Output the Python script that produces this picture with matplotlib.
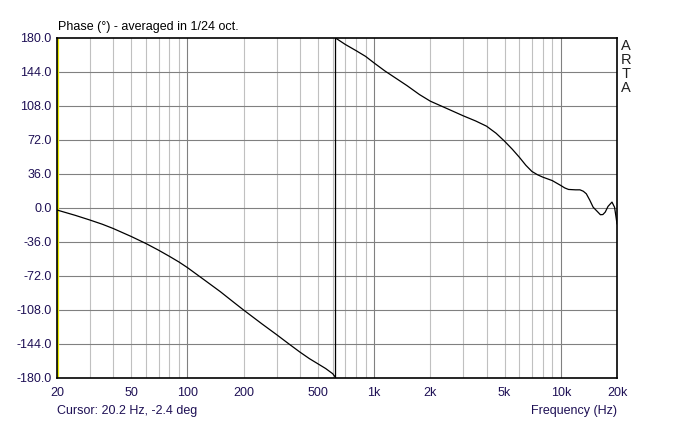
import matplotlib
matplotlib.use('Agg')
import matplotlib.pyplot as plt
from matplotlib.ticker import FixedLocator, NullFormatter

plt.rcParams['font.family'] = ['Liberation Sans', 'DejaVu Sans']

# ── data (phase in degrees, wraps at ~621 Hz) ────────────────────────────────
freq_hz = [20, 25, 30, 35, 40, 50, 60, 70, 80, 90, 100, 125, 150, 175, 200,
           250, 300, 350, 400, 450, 500, 550, 600, 621,
           621, 700, 800, 900, 1000, 1143, 1500, 1750, 2000, 2500, 3000, 3500,
           4000, 4500, 5000, 5500, 6000, 6500, 7000, 7500, 8000, 9000, 10000,
           10500, 11000, 12000, 12670, 13200, 13700, 14300, 14900, 15800,
           16300, 16800, 17300, 17900, 18800, 19400, 19700, 20000]
phase_deg = [-2.4, -8, -13, -17.5, -22, -30.5, -38, -45, -51.5, -57.5, -63.5,
             -77.5, -89, -99.5, -108.5, -123, -134.5, -144.5, -153, -160,
             -165.5, -170.5, -176, -180,
             180, 173.2, 166.6, 160.5, 153.5, 145, 129.5, 120, 113, 104.5,
             97.5, 92, 86.5, 79, 70.5, 62, 53.5, 45, 38.5, 35, 32.5, 28.8,
             23.6, 21, 19.4, 19, 19, 17.5, 14.8, 8, 0.6, -4.6, -7.4, -7.2,
             -4.6, 1.4, 6, 0.6, -8, -17]

y_ticks = [180, 144, 108, 72, 36, 0, -36, -72, -108, -144, -180]
x_ticks = [20, 50, 100, 200, 500, 1000, 2000, 5000, 10000, 20000]
x_tick_labels = ['20', '50', '100', '200', '500', '1k', '2k', '5k', '10k', '20k']
major_grid = [100, 1000, 10000]
minor_grid = [m * d for d in (10, 100, 1000) for m in range(2, 10)
              if 20 < m * d < 20000 and m * d not in major_grid]

cursor_f, cursor_v = 20.2, -2.4

label_col = '#1e1055'

fig = plt.figure(figsize=(6.73, 4.22), dpi=100)
ax = fig.add_axes([57 / 673, 44.5 / 422, 560 / 673, 339.5 / 422])

ax.set_xscale('log')
ax.set_xlim(20, 20000)
ax.set_ylim(-180, 180)

for f in minor_grid:
    ax.axvline(f, color='#c0c0c0', lw=0.8, zorder=1)
for f in major_grid:
    ax.axvline(f, color='#808080', lw=0.8, zorder=1)
for v in y_ticks[1:-1]:
    ax.axhline(v, color='#808080', lw=0.8, zorder=1)

ax.axvline(cursor_f, color='#e8e800', lw=1.6, zorder=2)

ax.plot(freq_hz, phase_deg, color='black', lw=0.9, zorder=3)

ax.xaxis.set_major_locator(FixedLocator(x_ticks))
ax.set_xticklabels(x_tick_labels)
ax.xaxis.set_minor_formatter(NullFormatter())
ax.xaxis.set_minor_locator(FixedLocator([]))
ax.set_yticks(y_ticks)
ax.set_yticklabels([f'{v:.1f}' for v in y_ticks])
ax.tick_params(length=0, labelsize=9, colors=label_col, pad=4)
ax.tick_params(axis='x', pad=7)

for sp in ax.spines.values():
    sp.set_color('black')
    sp.set_linewidth(1.2)

fig.text(58 / 673, 1 - 27 / 422, 'Phase (°) - averaged in 1/24 oct.',
         fontsize=9, color='black', va='center', ha='left')
fig.text(57 / 673, 1 - 411 / 422,
         f'Cursor: {cursor_f} Hz, {cursor_v} deg',
         fontsize=9, color=label_col, va='center', ha='left')
fig.text(617 / 673, 1 - 411 / 422, 'Frequency (Hz)',
         fontsize=9, color=label_col, va='center', ha='right')
fig.text(626 / 673, 1 - 39 / 422, 'A\nR\nT\nA', fontsize=10.5,
         color='#202020', va='top', ha='center', linespacing=1.0)

plt.savefig('out.png', dpi=100)
plt.close()
